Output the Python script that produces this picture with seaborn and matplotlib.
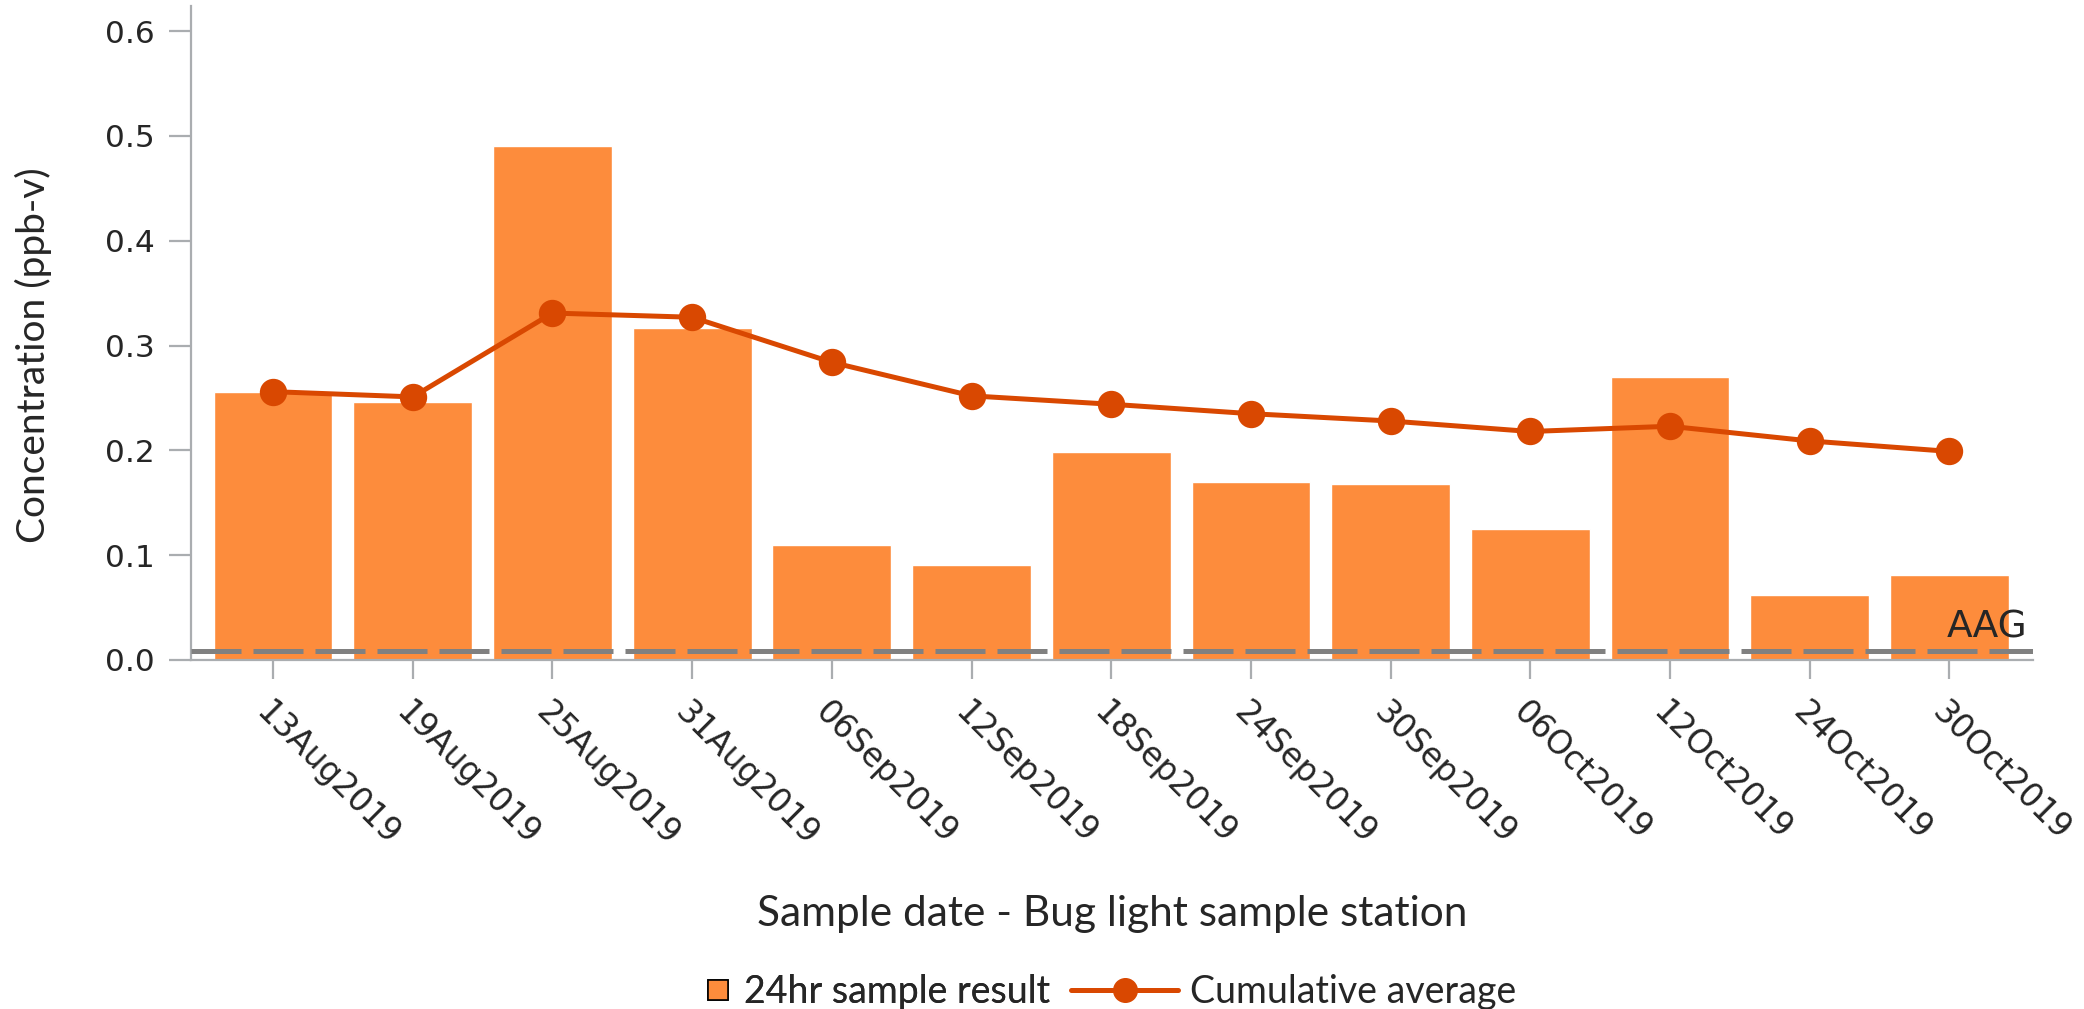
import numpy as np
import pandas as pd
import matplotlib
matplotlib.use("Agg")
import matplotlib.pyplot as plt
from matplotlib.lines import Line2D
import seaborn as sns

# values
dates = ["13Aug2019", "19Aug2019", "25Aug2019", "31Aug2019", "06Sep2019", "12Sep2019",
         "18Sep2019", "24Sep2019", "30Sep2019", "06Oct2019", "12Oct2019", "24Oct2019", "30Oct2019"]
sample_result = [0.256, 0.246, 0.490, 0.317, 0.110, 0.091, 0.198, 0.170, 0.168, 0.125, 0.270, 0.062, 0.081]
cumulative_avg = [0.256, 0.251, 0.331, 0.327, 0.284, 0.252, 0.244, 0.235, 0.228, 0.218, 0.223, 0.209, 0.199]
aag_level = 0.009
y_ticks = [0.0, 0.1, 0.2, 0.3, 0.4, 0.5, 0.6]

df = pd.DataFrame({"date": dates, "result": sample_result, "cum": cumulative_avg})

bar_color = "#FD8C3C"
line_color = "#D94801"
spine_color = "#AAADB0"
label_font = ["Lato", "DejaVu Sans"]

sns.set_style("white")
plt.rcParams["font.family"] = ["DejaVu Sans"]

fig = plt.figure(figsize=(20.84, 10.09), dpi=100)
ax = fig.add_axes([0.0917, 0.3459, 0.8839, 0.6482])

sns.barplot(data=df, x="date", y="result", color=bar_color, saturation=1, width=0.85, ax=ax)
sns.pointplot(data=df, x="date", y="cum", color=line_color, markers="o", ax=ax,
              markersize=17, linewidth=3.6)

# AAG reference line
ax.axhline(aag_level, color="#808080", lw=3.6, ls=(0, (10, 2.4)), zorder=5)

ax.set_xlim(-0.587, 12.60)
ax.set_ylim(0, 0.624)
ax.set_yticks(y_ticks)
ax.set_yticklabels([f"{v:.1f}" for v in y_ticks], fontsize=22.5)
ax.set_xticks(range(len(dates)))
ax.set_xticklabels(dates, rotation=-45, ha="left", va="top", rotation_mode="anchor", fontsize=23.5)

ax.text(12.56, 0.021, "AAG", ha="right", va="baseline", fontsize=27, zorder=6)

for side in ["top", "right"]:
    ax.spines[side].set_visible(False)
for side in ["left", "bottom"]:
    ax.spines[side].set_color(spine_color)
    ax.spines[side].set_linewidth(1.6)
ax.tick_params(axis="y", length=16, width=1.6, color=spine_color, pad=10, left=True)
ax.tick_params(axis="x", length=14, width=1.6, color=spine_color, pad=12, bottom=True)

ax.set_xlabel("Sample date - Bug light sample station", fontsize=30.5, family=label_font)
ax.set_ylabel("Concentration (ppb-v)", fontsize=28, family=label_font)
ax.xaxis.set_label_coords(0.5, -0.388)
ax.xaxis.label.set_va("center")
ax.yaxis.set_label_coords(-0.0858, 0.466)
ax.yaxis.label.set_va("center")

# legend in two pieces so the square handle stays small
h1 = Line2D([], [], marker="s", ls="none", markersize=14, markerfacecolor=bar_color,
            markeredgecolor="black", markeredgewidth=1.2)
h2 = Line2D([], [], marker="o", color=line_color, lw=3.6, markersize=17)
leg1 = fig.legend([h1], ["24hr sample result"], loc="center right", bbox_to_anchor=(0.504, 0.017),
                  frameon=False, borderpad=0, borderaxespad=0, handlelength=0.55, handletextpad=0.42,
                  prop={"family": label_font, "size": 27})
leg2 = fig.legend([h2], ["Cumulative average"], loc="center left", bbox_to_anchor=(0.514, 0.017),
                  frameon=False, borderpad=0, borderaxespad=0, handlelength=2.85, handletextpad=0.32,
                  prop={"family": label_font, "size": 27})
fig.add_artist(leg1)

fig.savefig("out.png", dpi=100)
